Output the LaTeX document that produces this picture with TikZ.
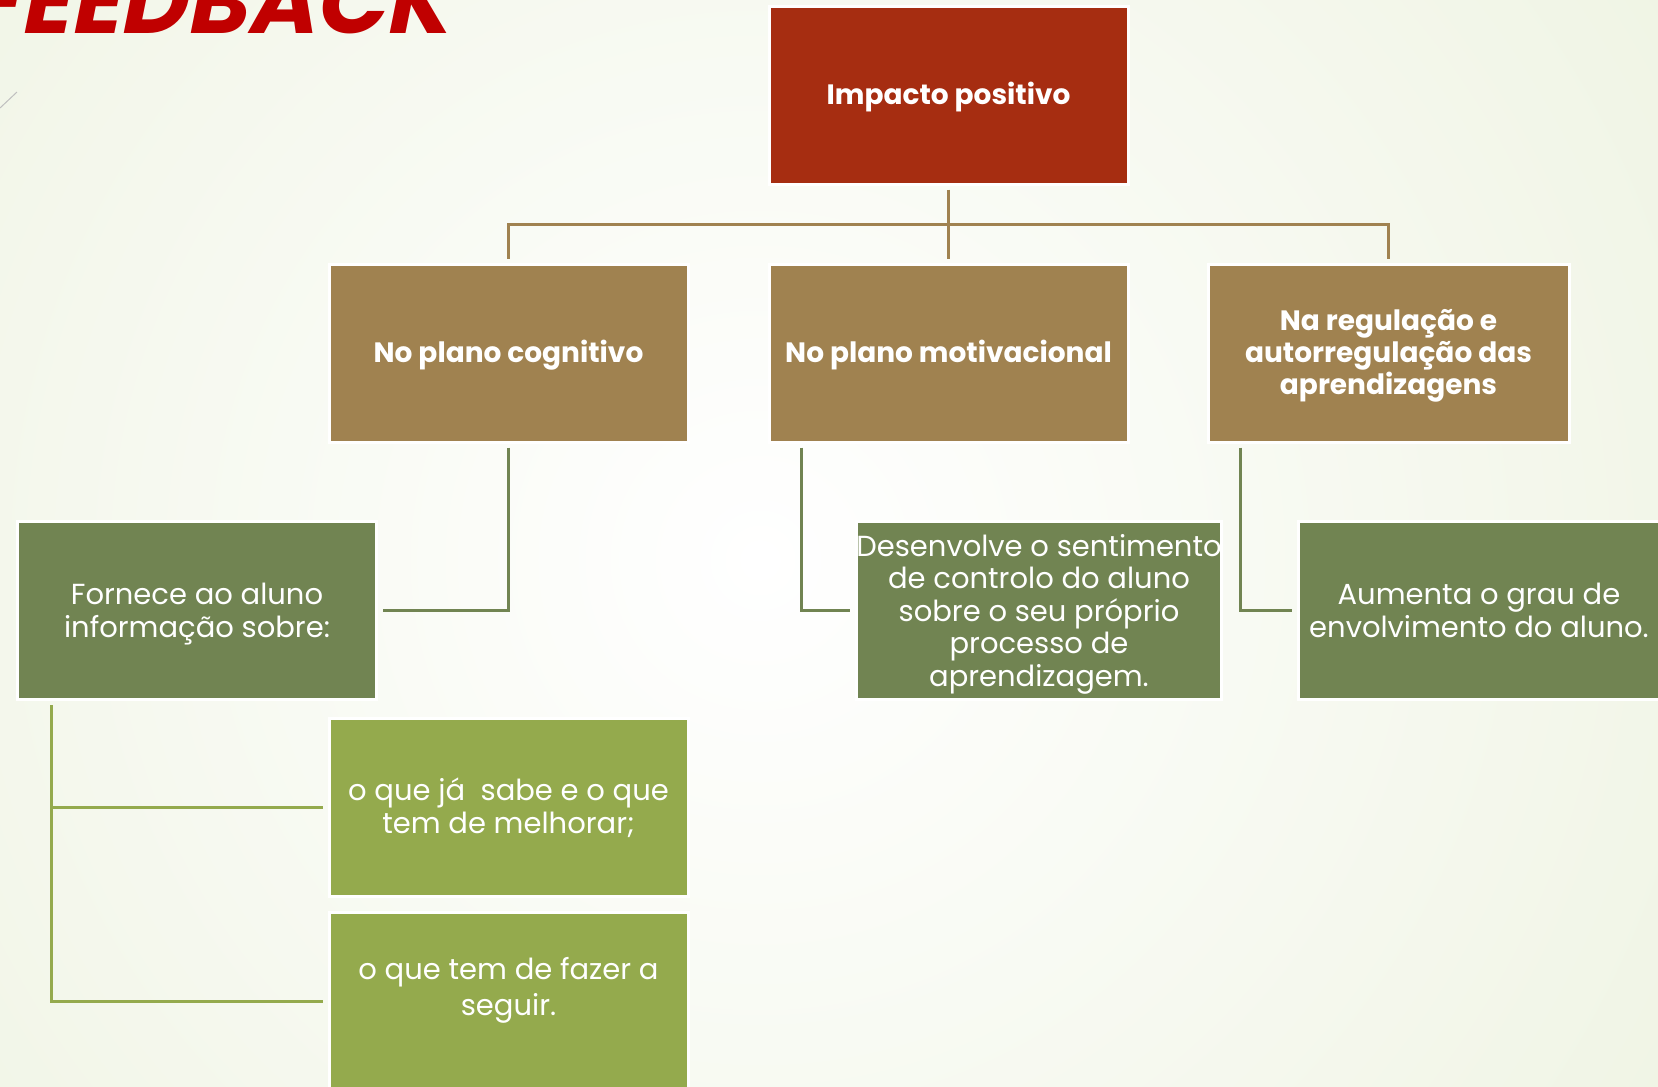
\documentclass[tikz,border=0pt]{standalone}
\usepackage{fontspec}
\setmainfont{Poppins}
\newfontfamily\titlefont[FakeSlant=0.2]{Poppins}
\definecolor{redbox}{RGB}{166,45,17}
\definecolor{brownbox}{RGB}{160,130,80}
\definecolor{dgreen}{RGB}{113,132,82}
\definecolor{lgreen}{RGB}{148,170,77}
\definecolor{bgout}{RGB}{225,234,203}
\definecolor{titlered}{RGB}{192,0,0}
\newcommand{\upsp}[1]{\rule{0pt}{#1}}
\begin{document}
\begin{tikzpicture}[x=1pt,y=-1pt,
  box/.style={draw=white, line width=3pt, inner sep=0pt, minimum width=359pt,
    minimum height=178pt, align=center, text=white,
    font=\fontsize{29}{32.5}\selectfont},
  boldbox/.style={box, font=\fontsize{28}{32}\selectfont\bfseries},
  brownline/.style={draw=brownbox, line width=3pt},
  dgline/.style={draw=dgreen, line width=3pt},
  lgline/.style={draw=lgreen, line width=3pt}]
\useasboundingbox (0,0) rectangle (1658,1087);
\clip (0,0) rectangle (1658,1087);
\fill[bgout] (0,0) rectangle (1658,1087);
\shade[inner color=white, outer color=bgout] (760,560) circle (2100);
\draw[draw=black!25, line width=1pt] (0,108) -- (17,92);
\node[anchor=base east, text=titlered, font=\titlefont\fontsize{92}{100}\selectfont\bfseries] (title) at (452,33) {FEEDBACK};
% boxes
\node[boldbox, fill=redbox] (top) at (948.5,95) {\upsp{27pt}Impacto positivo};
\node[boldbox, fill=brownbox] (b1) at (508.5,353) {\upsp{27pt}No plano cognitivo};
\node[boldbox, fill=brownbox] (b2) at (948.5,353) {\upsp{27pt}No plano motivacional};
\node[boldbox, fill=brownbox, minimum width=361pt] (b3) at (1388.5,353) {\upsp{27pt}Na regulação e\\autorregulação das\\aprendizagens};
\node[box, fill=dgreen] (gA) at (197,610.5) {\upsp{29pt}Fornece ao aluno\\informação sobre:};
\node[box, fill=dgreen] (gB) at (1039,610.5) {\upsp{29pt}Desenvolve o sentimento\\de controlo do aluno\\sobre o seu próprio\\processo de\\aprendizagem.};
\node[box, fill=dgreen, minimum width=362pt] (gC) at (1479,610.5) {Aumenta o grau de\\envolvimento do aluno.};
\node[box, fill=lgreen] (lD) at (508.5,807.5) {o que já\ \ sabe e o que\\tem de melhorar;};
\node[box, fill=lgreen] (lE) at (508.5,1001) {};
\node[align=center, text=white, font=\fontsize{29}{36}\selectfont, inner sep=0pt] (lEt) at (508.5,990) {o que tem de fazer a\\seguir.};
% connectors
\draw[brownline] ([yshift=-4pt]top.south) -- ([yshift=4pt]b2.north);
\draw[brownline] ([yshift=4pt]b1.north) |- (948.5,224) -| ([yshift=4pt]b3.north);
\draw[dgline] ([yshift=-4pt]b1.south) |- ([xshift=5pt]gA.east);
\draw[dgline] ([xshift=34pt,yshift=-4pt]b2.south west) |- ([xshift=-5pt]gB.west);
\draw[dgline] ([xshift=34pt,yshift=-4pt]b3.south west) |- ([xshift=-5pt]gC.west);
\draw[lgline] ([xshift=35pt,yshift=-4pt]gA.south west) |- ([xshift=-5pt]lD.west);
\draw[lgline] ([xshift=35pt,yshift=-4pt]gA.south west) |- ([xshift=-5pt]lE.west);
\end{tikzpicture}
\end{document}
